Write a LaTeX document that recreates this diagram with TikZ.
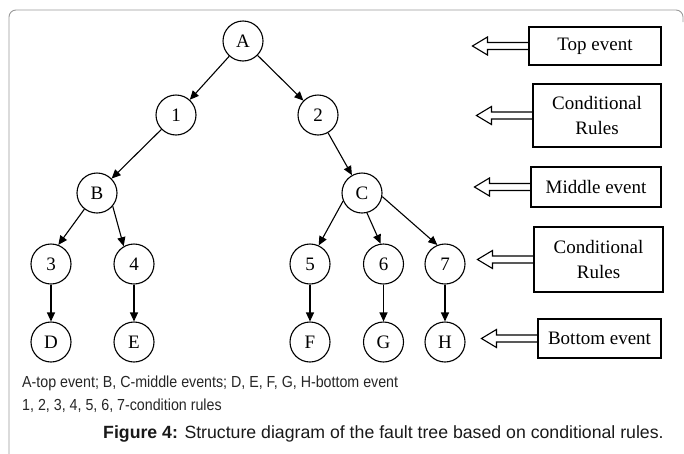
\documentclass[tikz,border=0pt]{standalone}
\usepackage{fontspec}
\setmainfont{Liberation Serif}
\newfontfamily\notefont[FakeStretch=0.89]{Liberation Sans}
\newfontfamily\captionfont{Liberation Sans}
\usetikzlibrary{arrows.meta}
\begin{document}
\begin{tikzpicture}[x=1pt,y=-1pt,
  ev/.style={circle,draw,line width=1.1pt,minimum size=40pt,inner sep=0pt,
    font=\fontsize{19}{19}\selectfont},
  lbl/.style={draw,line width=1.1pt,align=center,inner sep=0pt,
    font=\fontsize{19}{25}\selectfont},
  link/.style={line width=1.1pt,-{Triangle[length=9pt,width=8pt]}},
  hollow/.style={line width=1.1pt,line join=miter},
  note/.style={anchor=base west,inner sep=0pt,text=black!85,
    font=\notefont\fontsize{16}{16}\selectfont}]
\useasboundingbox (0,0) rectangle (684,453);

% frame
\draw[black!40,line width=0.9pt,rounded corners=7pt]
  (9,470) -- (9,10) -- (683,10) -- (683,22);

% level labels
\node[lbl,minimum width=132pt,minimum height=38pt] (top) at (595,46) {Top event};
\node[lbl,minimum width=128pt,minimum height=63pt] (cr1) at (597,115.5) {Conditional\\Rules};
\node[lbl,minimum width=130pt,minimum height=40pt] (mid) at (596,187) {Middle event};
\node[lbl,minimum width=129pt,minimum height=65pt] (cr2) at (598.5,259.5) {Conditional\\Rules};
\node[lbl,minimum width=123pt,minimum height=39pt] (bot) at (599.5,338.5) {Bottom event};

% hollow pointers from the labels
\foreach \b in {top,cr1,mid,cr2,bot}{
  \draw[hollow] ([yshift=3.5pt]\b.west) -- ++(-41,0) -- ++(0,-5.5)
    -- ++(-15,9) -- ++(15,9) -- ++(0,-5.5) -- ++(41,0);
}

% tree nodes
\node[ev] (A) at (243,41) {A};
\node[ev] (n1) at (176,115) {1};
\node[ev] (n2) at (318,115) {2};
\node[ev] (B) at (97,193) {B};
\node[ev] (C) at (362,193) {C};
\node[ev] (n3) at (51,264) {3};
\node[ev] (n4) at (134,264) {4};
\node[ev] (n5) at (310,264) {5};
\node[ev] (n6) at (383.5,264) {6};
\node[ev] (n7) at (445,264) {7};
\node[ev] (D) at (51,342) {D};
\node[ev] (E) at (134,342) {E};
\node[ev] (F) at (310,342) {F};
\node[ev] (G) at (383.5,342) {G};
\node[ev] (H) at (445,342) {H};

% tree edges
\draw[link] (A) -- (n1);
\draw[link] (A) -- (n2);
\draw[link] (n1) -- (B);
\draw[link] (n2) -- (C);
\draw[link] (B.-128) -- (n3.69);
\draw[link] (B.-40) -- (n4.120);
\draw[link] (C.-157) -- (n5.65);
\draw[link] (C.-76) -- (n6.98);
\draw[link] (C.-10) -- (n7.112);
\draw[link] (n3) -- (D);
\draw[link] (n4) -- (E);
\draw[link] (n5) -- (F);
\draw[link] (n6) -- (G);
\draw[link] (n7) -- (H);

% legend and caption
\node[note] (leg1) at (22,387) {A-top event; B, C-middle events; D, E, F, G, H-bottom event};
\node[note] (leg2) at (22,410) {1, 2, 3, 4, 5, 6, 7-condition rules};
\node[anchor=base west,inner sep=0pt,text=black!90,
  font=\captionfont\fontsize{17.7}{17.7}\selectfont] (cap) at (103,438)
  {\textbf{Figure 4:} Structure diagram of the fault tree based on conditional rules.};
\end{tikzpicture}
\end{document}
